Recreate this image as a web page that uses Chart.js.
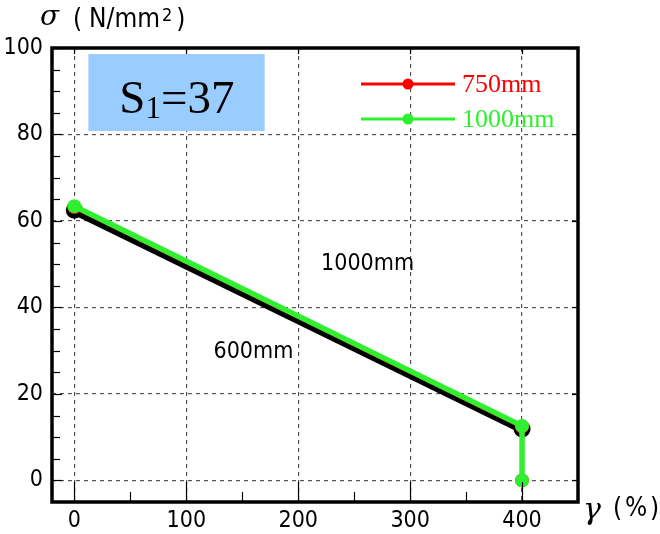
<!DOCTYPE html>
<html><head><meta charset="utf-8">
<script src="https://cdn.jsdelivr.net/npm/chart.js@4"></script>
<style>html,body{margin:0;padding:0;background:#fff}#wrap{width:660px;height:534px}</style>
</head><body><div id="wrap"><canvas id="c" width="660" height="534"></canvas></div>
<script>
const xTicks = [0, 100, 200, 300, 400];
const yTicks = [0, 20, 40, 60, 80, 100];
const seriesNames = ['750mm', '1000mm', '600mm'];
const gamma750 = [0, 400, 400];
const sigma750 = [63.2, 12.4, 0];
const gamma1000 = [0, 400, 400];
const sigma1000 = [63.4, 12.6, 0];
const gamma600 = [0, 400];
const sigma600 = [62.5, 11.9];
const labelText = ['1000mm', '600mm'];
const labelX = [262, 160];
const labelY = [50, 29.7];

const pts = (xs, ys) => xs.map((x, i) => ({x, y: ys[i]}));
const narrow = '"Liberation Sans Narrow","DejaVu Sans Condensed",sans-serif';
const GREEN = '#2ef02e';

const deco = {
  id: 'deco',
  beforeDatasetsDraw(chart) {
    const {ctx, scales: {x, y}} = chart;
    ctx.save();
    const bx1 = x.getPixelForValue(12.5), bx2 = x.getPixelForValue(170);
    const by1 = y.getPixelForValue(98.6), by2 = y.getPixelForValue(80.8);
    ctx.fillStyle = '#99ccff';
    ctx.fillRect(bx1, by1, bx2 - bx1, by2 - by1);
    ctx.fillStyle = '#000';
    ctx.textBaseline = 'alphabetic';
    ctx.font = '47px "Liberation Serif","Times New Roman",serif';
    let tx = bx1 + 31, ty = by1 + 59;
    ctx.fillText('S', tx, ty);
    tx += ctx.measureText('S').width;
    ctx.font = '31px "Liberation Serif","Times New Roman",serif';
    ctx.fillText('1', tx, ty + 5);
    tx += ctx.measureText('1').width;
    ctx.font = '47px "Liberation Serif","Times New Roman",serif';
    ctx.fillText('=37', tx, ty);
    ctx.font = '23px ' + narrow;
    ctx.textAlign = 'center';
    ctx.textBaseline = 'middle';
    labelText.forEach((t, i) => ctx.fillText(t, x.getPixelForValue(labelX[i]), y.getPixelForValue(labelY[i])));
    ctx.restore();
  },
  afterDraw(chart) {
    const {ctx, scales: {x, y}, chartArea: a} = chart;
    ctx.save();
    ctx.strokeStyle = '#000';
    ctx.lineWidth = 1.2;
    for (let v = 0; v <= 100; v += 5) {
      const py = Math.round(y.getPixelForValue(v)) + 0.5;
      const len = v % 20 === 0 ? 10 : 8;
      ctx.beginPath(); ctx.moveTo(a.left, py); ctx.lineTo(a.left + len, py); ctx.stroke();
      if (v % 20 === 0) { ctx.beginPath(); ctx.moveTo(a.right, py); ctx.lineTo(a.right - 6, py); ctx.stroke(); }
    }
    for (let v = 0; v <= 450; v += 50) {
      const px = Math.round(x.getPixelForValue(v)) + 0.5;
      const len = v % 100 === 0 ? 20 : 10;
      ctx.beginPath(); ctx.moveTo(px, a.bottom); ctx.lineTo(px, a.bottom - len); ctx.stroke();
      if (v % 100 === 0) { ctx.beginPath(); ctx.moveTo(px, a.top); ctx.lineTo(px, a.top + 6); ctx.stroke(); }
    }
    ctx.lineWidth = 3.5;
    ctx.strokeRect(a.left, a.top, a.right - a.left, a.bottom - a.top);
    const ds = chart.data.datasets;
    const leg = [{c: ds[0].borderColor, t: seriesNames[0], yy: 84}, {c: ds[1].borderColor, t: seriesNames[1], yy: 119}];
    leg.forEach(l => {
      ctx.strokeStyle = l.c; ctx.fillStyle = l.c; ctx.lineWidth = 3;
      ctx.beginPath(); ctx.moveTo(361, l.yy); ctx.lineTo(455, l.yy); ctx.stroke();
      ctx.beginPath(); ctx.arc(408, l.yy, 5.5, 0, Math.PI * 2); ctx.fill();
      ctx.font = '26px "Liberation Serif","Times New Roman",serif';
      ctx.textBaseline = 'middle'; ctx.textAlign = 'left';
      ctx.fillText(l.t, 462, l.yy + 1);
    });
    ctx.fillStyle = '#000';
    ctx.textBaseline = 'middle'; ctx.textAlign = 'left';
    ctx.font = 'italic 28px "DejaVu Serif","Liberation Serif",serif';
    ctx.fillText('σ', 40, 18);
    ctx.font = '26px ' + narrow;
    ctx.fillText('(', 73, 20);
    ctx.fillText('N/mm', 89, 20);
    let w = ctx.measureText('N/mm').width;
    ctx.font = '18px ' + narrow;
    ctx.fillText('2', 89 + w + 2, 16);
    let w2 = ctx.measureText('2').width;
    ctx.font = '26px ' + narrow;
    ctx.fillText(')', 89 + w + w2 + 6, 20);
    ctx.font = 'italic 30px "DejaVu Serif","Liberation Serif",serif';
    ctx.fillText('γ', 583, 511);
    ctx.font = '26px ' + narrow;
    ctx.fillText('(', 613, 509);
    ctx.fillText('%', 625, 509);
    ctx.fillText(')', 650, 509);
    ctx.restore();
  }
};

new Chart(document.getElementById('c'), {
  type: 'scatter',
  data: {
    datasets: [
      {label: seriesNames[0], data: pts(gamma750, sigma750), showLine: true, borderColor: '#ff0000', backgroundColor: '#ff0000', borderWidth: 4, pointRadius: 5, order: 1},
      {label: seriesNames[1], data: pts(gamma1000, sigma1000), showLine: true, borderColor: GREEN, backgroundColor: GREEN, borderWidth: 5.5, pointRadius: 7, pointBorderWidth: 0, order: 0},
      {label: seriesNames[2], data: pts(gamma600, sigma600), showLine: true, borderColor: '#000', backgroundColor: '#000', borderWidth: 9, pointRadius: 8.5, pointBorderWidth: 0, order: 2}
    ]
  },
  options: {
    responsive: false, animation: false,
    layout: {padding: {top: 48, right: 82, left: 0, bottom: 0}},
    plugins: {legend: {display: false}, tooltip: {enabled: false}},
    scales: {
      x: {
        type: 'linear', min: -20, max: 450,
        afterBuildTicks: s => { s.ticks = xTicks.map(v => ({value: v})); },
        afterFit: s => { s.height = 32; },
        grid: {color: '#555', lineWidth: 1.2, drawTicks: false, tickLength: 0},
        border: {display: false, dash: [4, 4]},
        ticks: {color: '#000', font: {family: narrow, size: 23}, padding: 5, maxRotation: 0}
      },
      y: {
        type: 'linear', min: -5, max: 100,
        afterBuildTicks: s => { s.ticks = yTicks.map(v => ({value: v})); },
        afterFit: s => { s.width = 52; },
        grid: {color: '#555', lineWidth: 1.2, drawTicks: false, tickLength: 0},
        border: {display: false, dash: [4, 4]},
        ticks: {color: '#000', font: {family: narrow, size: 23}, padding: 9}
      }
    }
  },
  plugins: [deco]
});
</script></body></html>
